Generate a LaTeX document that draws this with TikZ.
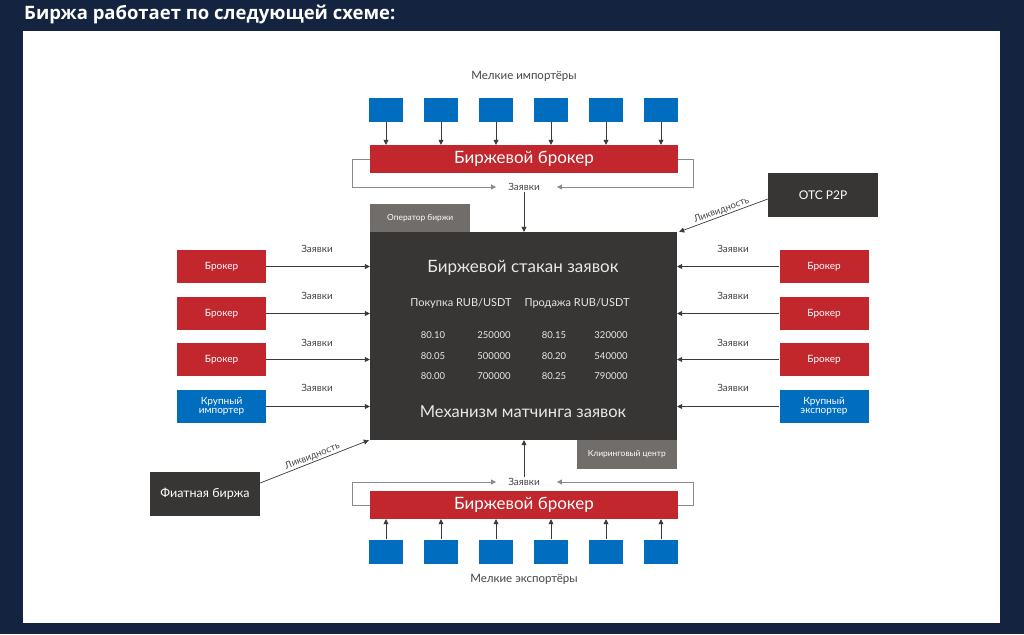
\documentclass[tikz,border=0pt]{standalone}
\usepackage{fontspec}
\setmainfont{Lato}
\newfontfamily\titlefont{Open Sans}
\usetikzlibrary{arrows.meta}
\definecolor{navy}{HTML}{14233F}
\definecolor{bred}{HTML}{C1272D}
\definecolor{bblue}{HTML}{006DBF}
\definecolor{dark}{HTML}{383634}
\definecolor{opgray}{HTML}{716D6B}
\definecolor{lineg}{HTML}{3A3A3A}
\definecolor{loopg}{HTML}{8A8A8A}
\definecolor{txtg}{HTML}{444444}
\definecolor{lt}{HTML}{E8E8E8}
\tikzset{
  box/.style={inner sep=0pt, text=white, align=center},
  redbox/.style={box, fill=bred},
  bluebox/.style={box, fill=bblue},
  darkbox/.style={box, fill=dark},
  graybox/.style={box, fill=opgray, font=\fontsize{8.4}{9.5}\selectfont},
  sq/.style={fill=bblue, minimum width=34pt, minimum height=24pt, inner sep=0pt},
  side/.style={minimum width=89pt, minimum height=33pt, font=\fontsize{10}{11}\selectfont},
  arr/.style={-{Triangle[length=5pt,width=5pt]}, line width=0.7pt, draw=lineg},
  looparr/.style={-{Triangle[length=5pt,width=5pt]}, line width=0.8pt, draw=loopg},
  lbl/.style={text=txtg, font=\fontsize{10}{11}\selectfont, inner sep=1pt},
  num/.style={text=lt, font=\fontsize{9.5}{11}\selectfont, inner sep=0pt},
}
\begin{document}
\begin{tikzpicture}[x=1pt,y=-1pt]
\fill[navy] (0,0) rectangle (1024,634);
\fill[white] (23,31) rectangle (1000,623);
\node[anchor=west, text=white, font=\titlefont\fontsize{18.5}{20}\selectfont\bfseries, inner sep=0pt] (title) at (24,15) {Биржа работает по следующей схеме:};

% top section
\node[lbl, font=\fontsize{11.5}{13}\selectfont] (imp) at (524,76) {Мелкие импортёры};
\node[redbox, minimum width=308pt, minimum height=28pt, font=\fontsize{17}{19}\selectfont] (tb) at (524,159) {Биржевой брокер};
\foreach \i in {0,...,5} {
  \node[sq] (t\i) at (386+55*\i,110) {};
  \draw[arr] (t\i.south) -- (t\i.south |- tb.north);
}
\node[lbl] (zt) at (524,187) {Заявки};
\draw[looparr] (tb.west) -- ++(-17,0) |- ([xshift=-11pt]zt.west);
\draw[looparr] (tb.east) -- ++(15,0) |- ([xshift=16pt]zt.east);

% central
\node[darkbox, minimum width=307pt, minimum height=208pt] (stack) at (523.5,336) {};
\node[graybox, minimum width=100pt, minimum height=28pt, anchor=north west] (op) at (370,204) {Оператор биржи};
\node[graybox, minimum width=100pt, minimum height=29pt, anchor=north east] (clr) at (677,440) {Клиринговый центр};
\draw[arr] (zt.south) -- (zt.south |- stack.north);

\node[text=lt, font=\fontsize{17}{19}\selectfont, inner sep=0pt] (h1) at (523,268) {Биржевой стакан заявок};
\node[text=lt, font=\fontsize{11}{13}\selectfont, inner sep=0pt] (buy) at (461,303) {Покупка RUB/USDT};
\node[text=lt, font=\fontsize{11}{13}\selectfont, inner sep=0pt] (sell) at (577,303) {Продажа RUB/USDT};
\node[num] (a1) at (433,335) {80.10};
\node[num] (b1) at (494,335) {250000};
\node[num] (c1) at (554,335) {80.15};
\node[num] (d1) at (611,335) {320000};
\node[num] (a2) at (433,356) {80.05};
\node[num] (b2) at (494,356) {500000};
\node[num] (c2) at (554,356) {80.20};
\node[num] (d2) at (611,356) {540000};
\node[num] (a3) at (433,376) {80.00};
\node[num] (b3) at (494,376) {700000};
\node[num] (c3) at (554,376) {80.25};
\node[num] (d3) at (611,376) {790000};
\node[text=lt, font=\fontsize{16.5}{18}\selectfont, inner sep=0pt] (h2) at (523,412) {Механизм матчинга заявок};

% left side
\node[redbox, side] (l1) at (221.5,266.5) {Брокер};
\node[redbox, side] (l2) at (221.5,313.5) {Брокер};
\node[redbox, side] (l3) at (221.5,359.5) {Брокер};
\node[bluebox, side] (l4) at (221.5,406.5) {Крупный\\[-2pt]импортер};
\node[redbox, side] (r1) at (824,266.5) {Брокер};
\node[redbox, side] (r2) at (824,313.5) {Брокер};
\node[redbox, side] (r3) at (824,359.5) {Брокер};
\node[bluebox, side] (r4) at (824,406.5) {Крупный\\[-2pt]экспортер};
\foreach \i/\y in {1/249,2/296,3/343,4/388} {
  \draw[arr] (l\i.east) -- (l\i.east -| stack.west);
  \node[lbl] (zl\i) at (317,\y) {Заявки};
  \draw[arr] (r\i.west) -- (r\i.west -| stack.east);
  \node[lbl] (zr\i) at (733,\y) {Заявки};
}

% OTC & fiat
\node[darkbox, minimum width=110pt, minimum height=44pt, font=\fontsize{12}{14}\selectfont] (otc) at (823,195) {OTC P2P};
\draw[arr] ([yshift=-4pt]otc.west) -- ([xshift=2pt]stack.north east) node[midway, sloped, above, lbl, font=\fontsize{9.5}{11}\selectfont] (liq1) {Ликвидность};
\node[darkbox, minimum width=110pt, minimum height=44pt, font=\fontsize{12.5}{14}\selectfont] (fiat) at (205,494) {Фиатная биржа};
\draw[arr] ([yshift=11pt]fiat.east) -- ([xshift=-1pt]stack.south west) node[midway, sloped, above, lbl, font=\fontsize{9.5}{11}\selectfont] (liq2) {Ликвидность};

% bottom section
\node[redbox, minimum width=308pt, minimum height=28pt, font=\fontsize{17}{19}\selectfont] (bb) at (524,505) {Биржевой брокер};
\node[lbl] (zb) at (524,482) {Заявки};
\draw[arr] (zb.north) -- (zb.north |- stack.south);
\draw[looparr] (bb.west) -- ++(-17,0) |- ([xshift=-11pt]zb.west);
\draw[looparr] (bb.east) -- ++(15,0) |- ([xshift=16pt]zb.east);
\foreach \i in {0,...,5} {
  \node[sq] (b\i) at (386+55*\i,551.5) {};
  \draw[arr] (b\i.north) -- (b\i.north |- bb.south);
}
\node[lbl, font=\fontsize{11.5}{13}\selectfont] (exp) at (524,579) {Мелкие экспортёры};
\end{tikzpicture}
\end{document}
